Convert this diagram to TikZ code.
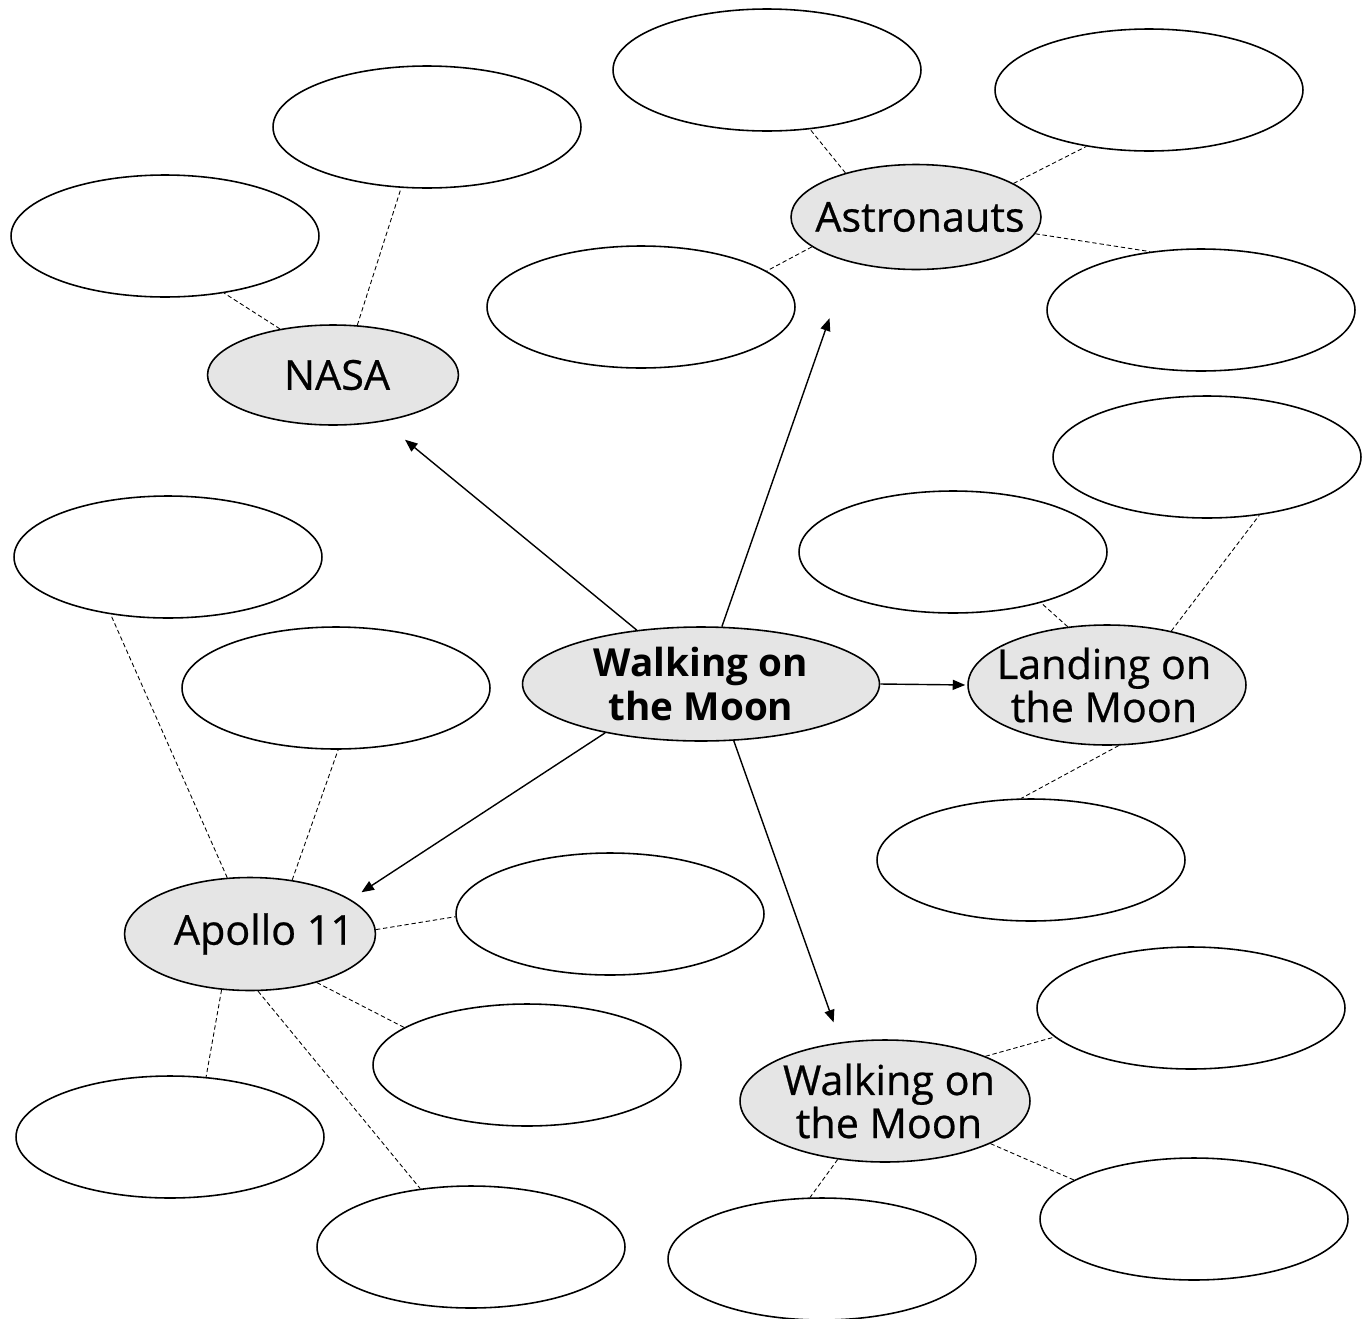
\documentclass[tikz,border=0pt]{standalone}
\usepackage{fontspec}
\setmainfont{Open Sans}
\newfontfamily\topicfont{Open Sans}[FakeBold=0.6]
\usetikzlibrary{shapes.geometric,arrows.meta}
\tikzset{
  blank/.style={ellipse, draw, line width=0.9pt, minimum width=6.16cm, minimum height=2.44cm, inner sep=0pt},
  topic/.style={ellipse, draw, line width=0.9pt, fill=gray!20, inner sep=0pt},
  toptext/.style={font=\topicfont\fontsize{23.5}{24.5}\selectfont, align=center},
  link/.style={line width=0.5pt, dash pattern=on 2.5pt off 1.6pt},
  arr/.style={line width=0.8pt, -{Triangle[length=0.25cm,width=0.2cm]}}
}

\begin{document}
\begin{tikzpicture}[x=0.02cm, y=-0.02cm]
    \useasboundingbox (0,0) rectangle (1363,1319);

    % topics
    \node[topic, minimum width=7.14cm, minimum height=2.28cm,
          label={[align=center, font=\fontsize{22}{25.5}\selectfont\bfseries]center:Walking on\\the Moon}] (main) at (701,684) {};
    \node[topic, minimum width=5.02cm, minimum height=2cm, label={[toptext, xshift=0.08cm]center:NASA}] (nasa) at (333,375) {};
    \node[topic, minimum width=5cm, minimum height=2.1cm, label={[toptext, xshift=0.08cm]center:Astronauts}] (astro) at (916,217) {};
    \node[topic, minimum width=5.56cm, minimum height=2.4cm, label={[toptext, xshift=-0.06cm]center:Landing on\\the Moon}] (land) at (1107,685) {};
    \node[topic, minimum width=5.02cm, minimum height=2.26cm, label={[toptext, xshift=0.28cm]center:Apollo 11}] (apollo) at (250,934) {};
    \node[topic, minimum width=5.8cm, minimum height=2.44cm, label={[toptext, xshift=0.08cm]center:Walking on\\the Moon}] (walk) at (885,1101) {};

    % empty ovals
    \foreach \n/\x/\y in {nasa1/427/127, nasa2/165/236,
        astro1/767/70, astro2/1149/90, astro3/641/307, astro4/1201/310,
        land1/1207/457, land2/953/552, land3/1031/860,
        apollo1/168/557, apollo2/336/688, apollo3/610/914, apollo4/527/1065, apollo5/170/1137, apollo6/471/1247,
        walk1/1191/1008, walk2/1194/1219, walk3/822/1259}
        \node[blank] (\n) at (\x,\y) {};

    \foreach \a/\b in {astro.148/astro1.306, astro.19/astro2.222, astro.196/astro3.16, astro.352/astro4.131,
        nasa.64/nasa1.247, nasa.139/nasa2.316,
        land.124/land2.330, land.40/land1.312, land.281/land3.99,
        apollo.112/apollo1.225, apollo.52/apollo2.272, apollo.2/apollo3.181,
        apollo.324/apollo4.163, apollo.243/apollo5.59, apollo.278/apollo6.131,
        walk.24/walk1.192, walk.338/walk2.162, walk.231/walk3.101}
        \draw[link] (\a) -- (\b);

    \draw[arr, shorten >=0.57cm] (main.140) -- (nasa.317);
    \draw[arr, shorten >=1.19cm] (main.70) -- (astro.214);
    \draw[arr, shorten >=0.04cm] (main.0) -- (land.180);
    \draw[arr, shorten >=0.26cm] (main.207) -- (apollo.19);
    \draw[arr, shorten >=0.42cm] (main.300) -- (walk.127);
\end{tikzpicture}
\end{document}
